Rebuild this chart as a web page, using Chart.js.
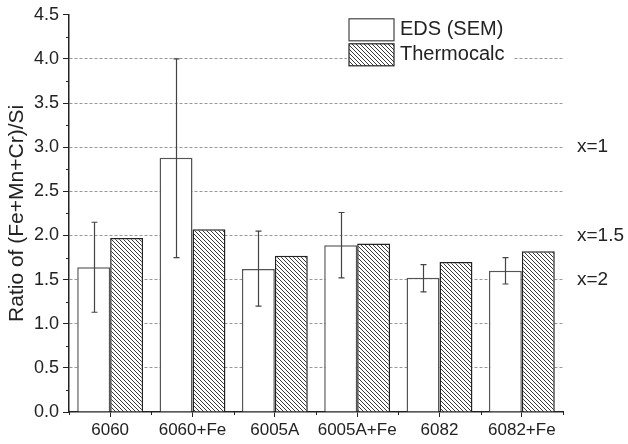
<!DOCTYPE html>
<html><head><meta charset="utf-8">
<script src="https://cdn.jsdelivr.net/npm/chart.js@4"></script>
<style>html,body{margin:0;padding:0;background:#fff}#wrap{width:628px;height:444px}</style>
</head><body><div id="wrap"><canvas id="c" width="628" height="444"></canvas></div>
<script>
const categories = ['6060','6060+Fe','6005A','6005A+Fe','6082','6082+Fe'];
const edsValues = [1.64, 2.88, 1.62, 1.89, 1.52, 1.60];
const edsErrLow = [1.13, 1.75, 1.20, 1.52, 1.36, 1.45];
const edsErrHigh = [2.15, 4.00, 2.05, 2.26, 1.67, 1.75];
const thermoValues = [1.97, 2.07, 1.77, 1.91, 1.70, 1.82];
const seriesNames = ['EDS (SEM)', 'Thermocalc'];
const refLabels = [{v:3.0,t:'x=1'},{v:2.0,t:'x=1.5'},{v:1.5,t:'x=2'}];
const FONT = "'Liberation Sans', Arial, sans-serif";

function hatch(){
  const s=4, c=document.createElement('canvas'); c.width=s; c.height=s;
  const g=c.getContext('2d'); g.fillStyle='#fff'; g.fillRect(0,0,s,s);
  g.strokeStyle='#222'; g.lineWidth=0.9;
  for(const x0 of [-s,0,s]){ g.beginPath(); g.moveTo(x0,0); g.lineTo(x0+s,s); g.stroke(); }
  return document.getElementById('c').getContext('2d').createPattern(c,'repeat');
}
const pat = hatch();

const extras = {
  id:'extras',
  afterDatasetsDraw(chart){
    const ctx=chart.ctx, y=chart.scales.y, x=chart.scales.x, ca=chart.chartArea;
    // error bars
    const meta=chart.getDatasetMeta(0);
    ctx.save(); ctx.strokeStyle='#444'; ctx.lineWidth=1.2;
    meta.data.forEach((b,i)=>{
      const bx=Math.round(b.x)+0.5, t=y.getPixelForValue(edsErrHigh[i]), bt=y.getPixelForValue(edsErrLow[i]);
      ctx.beginPath(); ctx.moveTo(bx,t); ctx.lineTo(bx,bt);
      ctx.moveTo(bx-3,t); ctx.lineTo(bx+3,t); ctx.moveTo(bx-3,bt); ctx.lineTo(bx+3,bt); ctx.stroke();
    });
    // minor ticks y
    ctx.strokeStyle='#222'; ctx.lineWidth=1;
    for(let v=0.25; v<4.5; v+=0.5){ const p=Math.round(y.getPixelForValue(v))+0.5; ctx.beginPath(); ctx.moveTo(ca.left-3,p); ctx.lineTo(ca.left,p); ctx.stroke(); }
    // minor ticks x at category boundaries
    for(let i=0;i<=categories.length;i++){ const p=Math.round(x.getPixelForValue(i-0.5))+0.5; ctx.beginPath(); ctx.moveTo(p,ca.bottom); ctx.lineTo(p,ca.bottom+3); ctx.stroke(); }
    // reference labels
    ctx.fillStyle='#222'; ctx.font='19px '+FONT; ctx.textBaseline='middle'; ctx.textAlign='left';
    refLabels.forEach(r=>ctx.fillText(r.t, ca.right+14, y.getPixelForValue(r.v)));
    // legend
    const lx=ca.right-214, ly=ca.top+4;
    ctx.fillStyle='#fff'; ctx.fillRect(lx-2, ly-2, 166, 51);
    ctx.lineWidth=1.2;
    ctx.fillStyle='#fff'; ctx.strokeStyle='#444'; ctx.fillRect(lx,ly,45,22); ctx.strokeRect(lx,ly,45,22);
    ctx.fillStyle=pat; ctx.strokeStyle='#222'; ctx.fillRect(lx,ly+25,45,22); ctx.strokeRect(lx,ly+25,45,22);
    ctx.fillStyle='#222'; ctx.font='20px '+FONT;
    ctx.fillText(seriesNames[0], lx+51, ly+11);
    ctx.fillText(seriesNames[1], lx+51, ly+36);
    ctx.restore();
  }
};

new Chart(document.getElementById('c'), {
  type:'bar',
  data:{ labels:categories, datasets:[
    {label:seriesNames[0], data:edsValues, backgroundColor:'#fff', borderColor:'#555', borderWidth:1.5, barPercentage:1, categoryPercentage:0.8},
    {label:seriesNames[1], data:thermoValues, backgroundColor:pat, borderColor:'#222', borderWidth:1.5, barPercentage:1, categoryPercentage:0.8}
  ]},
  options:{
    responsive:false, animation:false, devicePixelRatio:1,
    layout:{padding:{left:0,right:65,top:14,bottom:0}},
    plugins:{legend:{display:false}, tooltip:{enabled:false}},
    scales:{
      x:{
        grid:{offset:false, drawOnChartArea:false, drawTicks:true, tickLength:5, color:'#222', lineWidth:1},
        border:{display:true, color:'#222', width:1.5},
        ticks:{color:'#222', font:{family:FONT, size:17}, padding:3, maxRotation:0},
        afterFit(s){ s.height=32; }
      },
      y:{
        min:0, max:4.5,
        ticks:{stepSize:0.5, color:'#222', font:{family:FONT, size:18}, padding:4, callback:v=>v.toFixed(1)},
        grid:{drawTicks:true, tickLength:6, tickColor:'#222',
          color:c=>(c.tick && c.tick.value>0 && c.tick.value<4.5)?'#999':'rgba(0,0,0,0)', lineWidth:1},
        border:{display:true, color:'#222', width:1.5, dash:[3,2]},
        title:{display:true, text:'Ratio of (Fe+Mn+Cr)/Si', color:'#222', font:{family:FONT, size:21}, padding:{top:5,bottom:0}},
        afterFit(s){ s.width=69; }
      }
    }
  },
  plugins:[extras]
});
</script></body></html>
